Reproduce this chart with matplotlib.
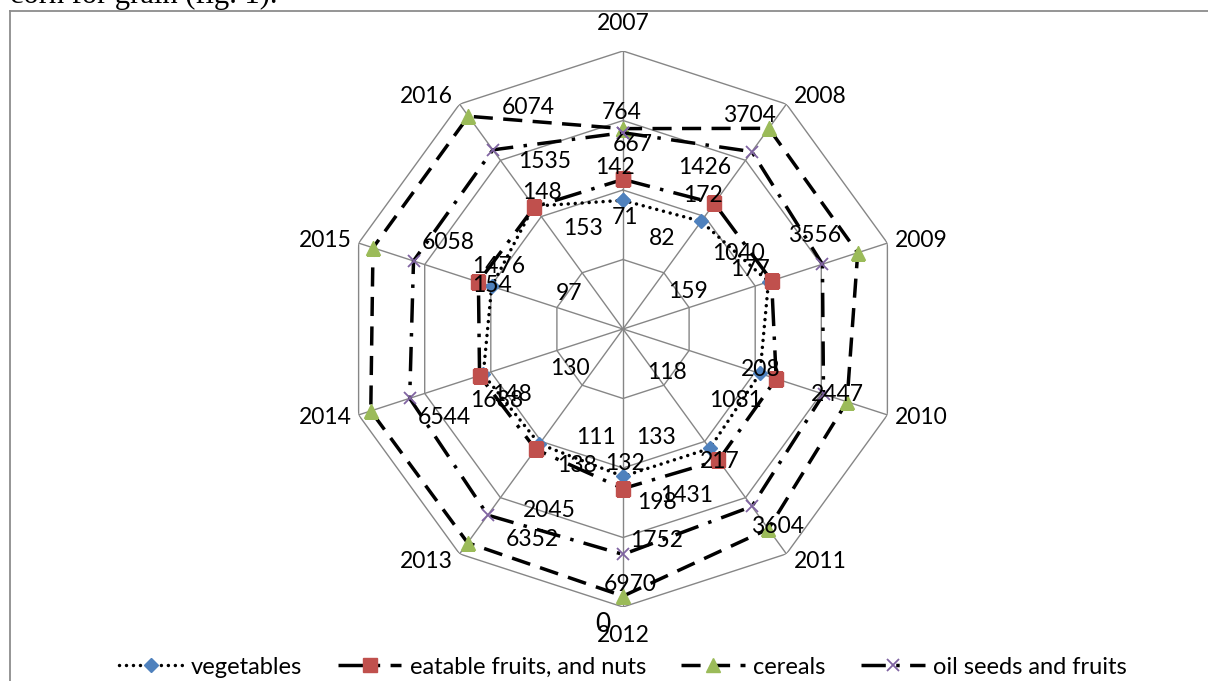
import numpy as np
import matplotlib
matplotlib.use("Agg")
import matplotlib.pyplot as plt
from matplotlib.lines import Line2D
from matplotlib.ticker import NullLocator

plt.rcParams['font.family'] = ['Lato', 'DejaVu Sans']

# data (log radial axis 1..10000)
years = ["2007", "2008", "2009", "2010", "2011", "2012", "2013", "2014", "2015", "2016"]
vegetables = [71, 82, 159, 118, 133, 132, 111, 130, 97, 153]
fruits = [142, 172, 177, 208, 217, 198, 138, 148, 154, 148]
cereals = [764, 3704, 3556, 2447, 3604, 6970, 6352, 6544, 6058, 6074]
oilseeds = [667, 1426, 1040, 1081, 1431, 1752, 2045, 1688, 1476, 1535]
names = ["vegetables", "eatable fruits, and nuts", "cereals", "oil seeds and fruits"]
rings = [10, 100, 1000, 10000]

# where Excel left the data labels (pixels from the marker, y down)
veg_off = [(2, 17), (-39, 17), (-81, 10), (-93, -1), (-54, -11),
           (2, -13), (57, -7), (87, -6), (77, 7), (49, 22)]
fruit_off = [(-8, -12), (-11, -8), (-22, -11), (-16, -9), (1, 1),
             (34, 14), (41, 16), (32, 19), (14, 3), (8, -14)]
cer_off = [(-1, -16), (-19, -13), (-43, -17), (-10, -7), (9, -2),
           (7, -12), (65, -3), (74, 7), (75, -5), (60, -9)]
oil_off = [(10, 12), (-47, 16), (-84, -11), (-88, 6), (-65, -11),
           (34, -14), (62, -5), (87, 2), (85, 6), (52, 12)]

W, H = 1208, 681
fig = plt.figure(figsize=(W / 100, H / 100), dpi=100)

# radar centre at (623, 329) px, outer ring radius 278 px
cx, cy, R = 623, 329, 278
ax = fig.add_axes([(cx - R) / W, (H - cy - R) / H, 2 * R / W, 2 * R / H], projection='polar')
ax.set_theta_zero_location('N')
ax.set_theta_direction(-1)
ax.set_rscale('log')
ax.set_rlim(1, 10000)
ax.grid(False)
ax.set_xticks([])
ax.set_yticks([])
ax.yaxis.set_minor_locator(NullLocator())
ax.spines['polar'].set_visible(False)
ax.patch.set_alpha(0)

n = len(years)
angles = np.arange(n) * 2 * np.pi / n
closed = np.append(angles, angles[0])

grid_c = '#868686'
for r in rings:
    ax.plot(closed, [r] * (n + 1), color=grid_c, lw=1.0, zorder=1)
for a in angles:
    ax.plot([a, a], [1, rings[-1]], color=grid_c, lw=1.0, zorder=1)

lw = 2.5
styles = [
    dict(ls=(0, (0.01, 2.0)), dash_capstyle='round', marker='D', ms=7.2,
         mfc='#4F81BD', mec='#4F81BD'),
    dict(ls=(0, (8, 3, 1, 3)), marker='s', ms=10, mfc='#C0504D', mec='#C0504D'),
    dict(ls=(0, (5.5, 3)), marker='^', ms=9.5, mfc='#9BBB59', mec='#9BBB59'),
    dict(ls=(0, (7, 3, 1, 3)), marker='x', ms=9, mew=1.3, mfc='#8064A2', mec='#8064A2'),
]
series = [vegetables, fruits, cereals, oilseeds]
offsets = [veg_off, fruit_off, cer_off, oil_off]

fs = 16.5
handles = []
for vals, st, name in zip(series, styles, names):
    v = np.append(vals, vals[0])
    line, = ax.plot(closed, v, color='black', lw=lw, label=name, zorder=3, **st)
    handles.append(line)

for vals, offs in zip(series, offsets):
    for a, v, (dx, dy) in zip(angles, vals, offs):
        ax.annotate(str(v), xy=(a, v), xytext=(dx, -dy), textcoords='offset pixels',
                    ha='center', va='center', fontsize=fs, zorder=5)

# category labels around the outer ring
for a, yr in zip(angles, years):
    s, c = np.sin(a), np.cos(a)
    if abs(s) < 0.01:
        ax.annotate(yr, xy=(a, rings[-1]), xytext=(0, 28 * c), textcoords='offset pixels',
                    ha='center', va='center', fontsize=fs)
    else:
        ax.annotate(yr, xy=(a, rings[-1]), xytext=(7 * np.sign(s), 10 * c),
                    textcoords='offset pixels', ha='left' if s > 0 else 'right',
                    va='center', fontsize=fs)

ax.annotate("0", xy=(np.pi, rings[-1]), xytext=(-20, -18), textcoords='offset pixels',
            ha='center', va='center', fontsize=19)

fig.legend(handles=handles, labels=names, loc='center', bbox_to_anchor=(cx / W, 14 / H),
           ncol=4, frameon=False, fontsize=17, handlelength=2.7, handletextpad=0.35,
           columnspacing=1.5)

# chart border and the clipped document text above it
border = '#8c8c8c'
fig.add_artist(Line2D([10 / W, 1], [(H - 11) / H] * 2, color=border, lw=1.3))
fig.add_artist(Line2D([10 / W] * 2, [0, (H - 11) / H], color=border, lw=1.3))
fig.text(10 / W, (H - 3) / H, "corn for grain (fig. 1).", family='Liberation Serif',
         fontsize=22, va='baseline', ha='left')

fig.savefig("out.png", dpi=100)
